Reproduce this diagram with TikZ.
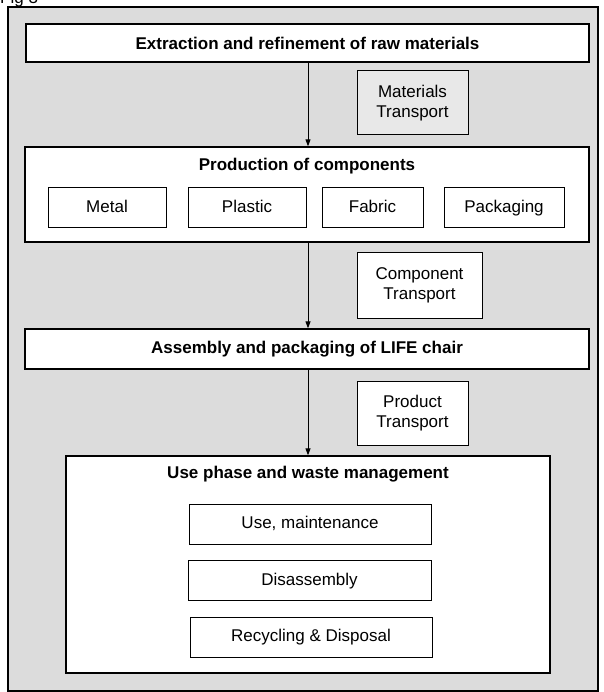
\documentclass[tikz,border=0pt]{standalone}
\usepackage{fontspec}
\setmainfont{Liberation Sans}
\usetikzlibrary{arrows.meta}
\definecolor{fondgris}{HTML}{DCDCDC}
\definecolor{boitegris}{HTML}{E8E8E8}
\begin{document}
\begin{tikzpicture}[x=1pt, y=-1pt,
    font=\fontsize{17}{20}\selectfont,
    >={Triangle[length=7pt,width=5pt]},
    etape/.style={draw, line width=1.3pt, fill=white, inner sep=0pt},
    sousetape/.style={draw, line width=1pt, fill=white, inner sep=0pt, minimum height=40pt, text height=12.5pt, text depth=3.5pt},
    transport/.style={draw, line width=1pt, fill=white, align=center, inner sep=0pt},
    titre/.style={font=\fontsize{17}{20}\selectfont\bfseries}]
        \useasboundingbox (0, 0) rectangle (603, 692);

        % Cadre général et légende
        \node[draw, line width=1.5pt, fill=fondgris, minimum width=590pt, minimum height=684pt] (cadre) at (303, 349) {};
        \node[anchor=base west, inner sep=0pt] (fig) at (0, 4) {Fig 3};

        % Extraction des matières premières
        \node[etape, minimum width=563pt, minimum height=38pt] (extr) at (307.5, 43) {};
        \node[titre] (extrtxt) at (307.5, 43) {Extraction and refinement of raw materials};
        \node[transport, fill=boitegris, minimum width=111pt, minimum height=64pt] (matT) at (412.5, 103) {Materials\\Transport};

        % Production des composants
        \node[etape, minimum width=564pt, minimum height=95pt] (prod) at (307, 194.5) {};
        \node[titre] (prodtxt) at (307, 166) {Production of components};
        \node[sousetape, minimum width=118pt] (metal) at (107, 208) {Metal};
        \node[sousetape, minimum width=118pt] (plast) at (247, 208) {Plastic};
        \node[sousetape, minimum width=101pt] (fabr) at (372.5, 208) {Fabric};
        \node[sousetape, minimum width=120pt] (pack) at (504, 208) {Packaging};
        \node[transport, minimum width=125pt, minimum height=65pt] (compT) at (419.5, 285.5) {Component\\Transport};

        % Assemblage
        \node[etape, minimum width=564pt, minimum height=40pt] (assem) at (307, 349) {};
        \node[titre] (assemtxt) at (307, 349) {Assembly and packaging of LIFE chair};
        \node[transport, minimum width=111pt, minimum height=64pt] (prodT) at (412.5, 413) {Product\\Transport};

        % Utilisation et fin de vie
        \node[etape, minimum width=484pt, minimum height=217pt] (usage) at (308, 564.5) {};
        \node[titre] (usagetxt) at (308, 474) {Use phase and waste management};
        \node[sousetape, minimum width=242pt] (util) at (310, 524) {Use, maintenance};
        \node[sousetape, minimum width=243pt] (desas) at (309.5, 580.5) {Disassembly};
        \node[sousetape, minimum width=242pt] (recyc) at (311, 637) {Recycling \& Disposal};

        % Flèches entre les étapes
        \draw[->, line width=1pt] (extr.south -| 308, 0) -- (prod.north -| 308, 0);
        \draw[->, line width=1pt] (prod.south -| 308, 0) -- (assem.north -| 308, 0);
        \draw[->, line width=1pt] (assem.south -| 308, 0) -- (usage.north -| 308, 0);

    \end{tikzpicture}
\end{document}
